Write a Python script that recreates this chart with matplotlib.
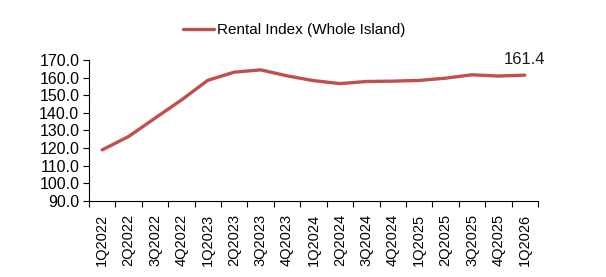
import matplotlib
matplotlib.use("Agg")
import matplotlib.pyplot as plt
import numpy as np

quarters = ["1Q2022", "2Q2022", "3Q2022", "4Q2022", "1Q2023", "2Q2023", "3Q2023", "4Q2023",
            "1Q2024", "2Q2024", "3Q2024", "4Q2024", "1Q2025", "2Q2025", "3Q2025", "4Q2025", "1Q2026"]
rental_index = [119.0, 126.6, 137.0, 147.3, 158.5, 163.1, 164.4, 161.0,
                158.3, 156.6, 157.8, 158.0, 158.4, 159.7, 161.6, 160.9, 161.4]
series_name = "Rental Index (Whole Island)"
yticks = [90, 100, 110, 120, 130, 140, 150, 160, 170]

plt.rcParams['font.family'] = ['Liberation Sans', 'DejaVu Sans']
fig = plt.figure(figsize=(6.06, 2.77), dpi=100)
W, H = 606, 277
ax = fig.add_axes([89 / W, 1 - 201 / H, (538 - 89) / W, (201 - 60) / H])

x = np.arange(len(quarters))
line, = ax.plot(x, rental_index, color="#C0504D", lw=2.4, solid_capstyle="round", label=series_name)
ax.annotate(f"{rental_index[-1]:.1f}", (x[-1], rental_index[-1]), xytext=(0, 6),
            textcoords="offset points", ha="center", va="bottom", fontsize=12, color="#1a1a1a")

ax.set_xlim(-0.5, len(quarters) - 0.5)
ax.set_ylim(90, 170)
ax.set_yticks(yticks)
ax.set_yticklabels([f"{v:.1f}" for v in yticks], fontsize=11.5)
ax.set_xticks(x)
ax.set_xticklabels(quarters, rotation=90, fontsize=10.5)
ax.set_xticks(np.arange(-0.5, len(quarters)), minor=True)
ax.tick_params(axis="x", which="major", length=0, pad=9)
ax.tick_params(axis="x", which="minor", length=4, width=0.8, direction="out")
ax.tick_params(axis="y", length=4, width=0.8, direction="out", pad=3)
for s in ["top", "right"]:
    ax.spines[s].set_visible(False)
for s in ["left", "bottom"]:
    ax.spines[s].set_linewidth(0.8)

fig.legend(handles=[line], loc="center", bbox_to_anchor=(294 / W, 1 - 30 / H), frameon=False,
           fontsize=11, handlelength=2.0, handletextpad=0.2)

fig.savefig("out.png", dpi=100)
